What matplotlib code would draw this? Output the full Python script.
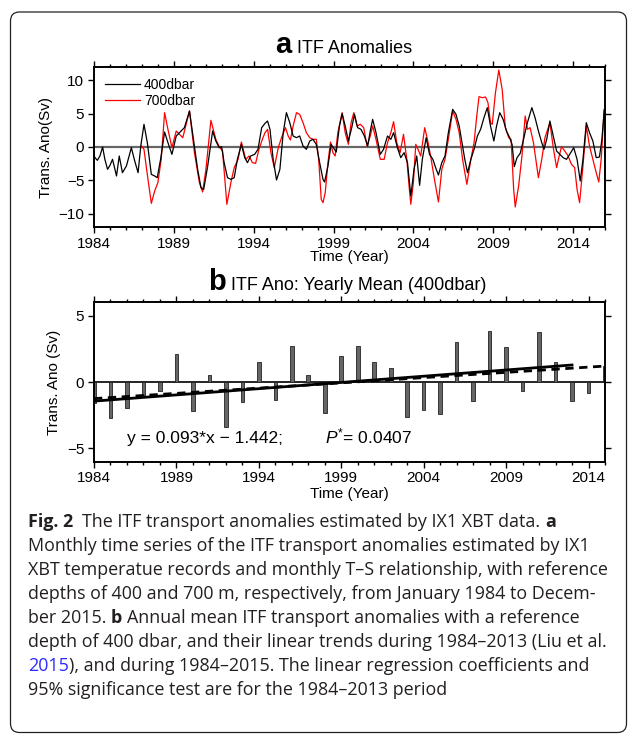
import matplotlib
matplotlib.use("Agg")
import matplotlib.pyplot as plt
import numpy as np
from matplotlib.patches import FancyBboxPatch
from matplotlib.transforms import IdentityTransform

plt.rcParams['font.family'] = ['Liberation Sans', 'DejaVu Sans']
plt.rcParams['mathtext.fontset'] = 'custom'
plt.rcParams['mathtext.rm'] = 'Liberation Sans'
plt.rcParams['mathtext.it'] = 'Liberation Sans:italic'

W, H = 631, 734

# panel a: monthly anomalies
yr_400 = [1984.0, 1984.06, 1984.21, 1984.37, 1984.54, 1984.68, 1984.85, 1985.0, 1985.16, 1985.41,
          1985.58, 1985.78, 1986.03, 1986.34, 1986.55, 1986.76, 1986.93, 1987.13, 1987.34, 1987.59,
          1987.8, 1987.96, 1988.17, 1988.42, 1988.63, 1988.88, 1989.15, 1989.46, 1989.66, 1989.98,
          1990.29, 1990.49, 1990.7, 1990.87, 1991.12, 1991.43, 1991.63, 1991.84, 1991.99, 1992.15,
          1992.36, 1992.57, 1992.78, 1992.98, 1993.23, 1993.44, 1993.61, 1993.81, 1994.06, 1994.27,
          1994.5, 1994.71, 1994.87, 1995.02, 1995.22, 1995.43, 1995.64, 1995.85, 1996.05, 1996.26,
          1996.47, 1996.68, 1996.88, 1997.09, 1997.3, 1997.51, 1997.71, 1997.92, 1998.13, 1998.34,
          1998.44, 1998.65, 1998.85, 1999.06, 1999.17, 1999.37, 1999.54, 1999.73, 1999.93, 2000.14,
          2000.31, 2000.51, 2000.72, 2000.93, 2001.14, 2001.3, 2001.45, 2001.66, 2001.93, 2002.13,
          2002.38, 2002.59, 2002.76, 2003.0, 2003.21, 2003.42, 2003.63, 2003.84, 2004.04, 2004.21,
          2004.39, 2004.56, 2004.8, 2005.01, 2005.22, 2005.43, 2005.57, 2005.78, 2005.98, 2006.19,
          2006.46, 2006.67, 2006.87, 2007.08, 2007.22, 2007.39, 2007.6, 2007.8, 2008.01, 2008.21,
          2008.42, 2008.63, 2008.83, 2009.04, 2009.21, 2009.41, 2009.62, 2009.83, 2010.03, 2010.18,
          2010.32, 2010.49, 2010.69, 2010.9, 2011.11, 2011.42, 2011.62, 2011.83, 2012.04, 2012.18,
          2012.35, 2012.55, 2012.76, 2012.97, 2013.17, 2013.38, 2013.59, 2013.79, 2014.04, 2014.25,
          2014.45, 2014.62, 2014.83, 2015.03, 2015.24, 2015.45, 2015.65, 2015.8, 2015.95]
sv_400 = [-1.2, -1.6, -2.0, -1.35, 0.0, -1.85, -3.35, -2.75, -1.85, -4.35,
          -1.35, -3.85, -2.85, -0.1, -2.1, -3.85, 0.15, 3.4, 0.65, -4.1,
          -4.35, -4.6, -1.85, 2.25, 0.65, -1.1, 1.65, 2.4, 2.9, 5.4,
          0.15, -3.35, -6.1, -6.35, -2.85, 2.4, 0.9, -0.1, 0.05, -2.35,
          -4.6, -4.85, -4.6, -1.85, 0.4, -1.6, -2.35, -1.35, -1.1, -0.35,
          2.9, 3.55, 3.9, 2.65, -1.85, -4.95, -3.35, 2.15, 5.15, 3.65,
          1.65, 1.4, 1.65, 0.15, -0.35, 0.9, 1.15, 0.4, -2.35, -4.85,
          -5.25, -2.85, 0.4, -0.35, -0.75, 3.15, 5.0, 3.15, 0.9, 2.9,
          4.9, 2.9, 2.65, 1.65, 0.15, 2.4, 4.15, 2.15, -1.1, -0.35,
          1.65, 1.15, 2.15, -0.1, -1.6, -0.85, -2.35, -7.35, -3.35, -1.35,
          -5.75, -1.85, 1.4, -1.1, -1.85, -3.35, -4.2, -2.35, -1.35, 2.15,
          5.65, 4.9, 3.15, 0.15, -1.85, -3.85, -1.85, -0.35, 1.65, 2.65,
          4.4, 5.9, 3.15, 0.9, 3.15, 5.15, 4.15, 2.4, 1.4, 0.4,
          -2.95, -1.6, -0.95, 1.15, 3.4, 5.9, 4.4, 2.4, 0.65, -0.35,
          1.15, 3.9, 1.65, -0.6, -1.1, -1.6, -1.85, -1.1, -0.1, -1.85,
          -5.1, -1.85, 3.65, 2.15, 0.9, -1.6, -1.5, 1.0, 5.5]

yr_700 = [1986.97, 1987.13, 1987.38, 1987.59, 1987.8, 1988.0, 1988.21, 1988.42, 1988.63, 1988.88,
          1989.15, 1989.35, 1989.56, 1989.77, 1989.98, 1990.29, 1990.6, 1990.8, 1991.01, 1991.32,
          1991.63, 1991.84, 1992.05, 1992.32, 1992.57, 1992.78, 1993.02, 1993.23, 1993.5, 1993.71,
          1993.92, 1994.12, 1994.33, 1994.55, 1994.71, 1994.87, 1995.08, 1995.29, 1995.54, 1995.74,
          1995.99, 1996.16, 1996.3, 1996.47, 1996.68, 1996.88, 1997.09, 1997.3, 1997.51, 1997.71,
          1997.92, 1998.07, 1998.23, 1998.34, 1998.48, 1998.65, 1998.81, 1998.96, 1999.1, 1999.27,
          1999.54, 1999.73, 1999.93, 2000.1, 2000.27, 2000.47, 2000.68, 2000.89, 2001.1, 2001.3,
          2001.45, 2001.66, 2001.93, 2002.17, 2002.38, 2002.59, 2002.76, 2002.96, 2003.17, 2003.38,
          2003.59, 2003.73, 2003.84, 2004.0, 2004.15, 2004.29, 2004.46, 2004.71, 2004.88, 2005.08,
          2005.32, 2005.57, 2005.78, 2005.98, 2006.19, 2006.46, 2006.67, 2006.87, 2007.08, 2007.35,
          2007.6, 2007.8, 2007.97, 2008.11, 2008.32, 2008.52, 2008.67, 2008.83, 2008.94, 2009.14,
          2009.35, 2009.56, 2009.76, 2009.97, 2010.12, 2010.28, 2010.38, 2010.59, 2010.8, 2011.0,
          2011.15, 2011.31, 2011.52, 2011.73, 2011.83, 2012.04, 2012.24, 2012.55, 2012.76, 2012.97,
          2013.13, 2013.28, 2013.48, 2013.69, 2013.9, 2014.1, 2014.25, 2014.41, 2014.62, 2014.83,
          2015.03, 2015.24, 2015.45, 2015.61, 2015.76, 2015.95]
sv_700 = [0.15, -0.35, -4.85, -8.45, -6.6, -5.35, -1.85, 5.15, 2.65, -0.1,
          2.4, 1.9, 1.4, 3.4, 5.4, -0.85, -5.35, -6.75, -3.35, 4.0,
          1.15, 0.05, -0.6, -8.6, -5.35, -3.1, -1.85, 0.75, -1.85, -1.35,
          -2.35, -2.45, -0.35, 1.2, 2.15, 2.65, -0.85, -3.1, -0.1, 1.4,
          2.9, 1.65, 1.05, 3.15, 5.15, 4.9, 3.65, 2.15, 1.4, 1.15,
          1.15, -1.85, -7.85, -8.35, -6.85, -2.35, 0.75, -0.85, -1.35, 2.15,
          5.15, 2.15, 0.4, 3.65, 5.15, 3.15, 3.4, 2.9, 0.15, 1.65,
          3.15, 1.15, -1.85, -1.85, 0.65, 2.15, 3.8, 0.65, -0.85, 1.9,
          -1.85, -5.85, -8.6, -5.35, 0.4, -0.35, -1.35, 2.9, 1.15, -1.35,
          -4.85, -8.25, -3.35, -1.85, 1.15, 5.4, 4.15, 2.15, -1.85, -5.6,
          -1.85, 0.65, 4.65, 7.55, 7.4, 7.5, 6.65, 3.65, 3.4, 8.15,
          11.55, 8.65, 2.9, 1.4, 1.15, -6.35, -9.0, -5.85, -1.35, 4.65,
          2.65, 2.9, 0.65, -2.85, -4.6, -1.85, 1.4, 3.65, -0.1, -3.1,
          -1.35, 0.05, -0.6, -1.35, -2.6, -3.1, -6.35, -8.35, -2.85, 3.15,
          0.15, -1.85, -3.85, -5.25, -1.85, 5.65]

# panel b: yearly means (400dbar)
years = list(range(1984, 2016))
yearly = [-1.6, -2.7, -1.95, -0.95, -0.7, 2.1, -2.15, 0.5, -3.4, -1.5,
          1.48, -1.35, 2.73, 0.55, -2.35, 1.93, 2.7, 1.53, 1.05, -2.63,
          -2.13, -2.4, 2.98, -1.45, 3.83, 2.63, -0.7, 3.75, 1.53, -1.4,
          -0.85, 1.18]
trend_13_x = [1984, 2013]
trend_13_y = [-1.44, 1.28]
trend_15_x = [1984, 2015]
trend_15_y = [-1.25, 1.2]


def px(x, y):
    return x / W, 1 - y / H


def style_axes(ax, x0, x1):
    ax.set_xlim(x0, x1)
    ax.set_xticks(range(1984, x1, 5))
    ax.set_xticks(range(1984, x1 + 1), minor=True)
    ax.tick_params(which='both', direction='out', top=True, right=True, labelsize=11, width=1)
    ax.tick_params(which='major', length=4, pad=3)
    ax.tick_params(which='minor', length=2.2)
    ax.tick_params(axis='y', which='minor', left=False, right=False)
    for s in ax.spines.values():
        s.set_linewidth(1.4)


fig = plt.figure(figsize=(W / 100, H / 100), dpi=100)

# card border
fig.patches.append(FancyBboxPatch((10.5, 1.5), 616, 720.5, boxstyle='round,pad=0,rounding_size=9',
                                  transform=IdentityTransform(), fill=False, ec='#222222', lw=0.9))

# ---- panel a
ax1 = fig.add_axes([94 / W, 1 - 227 / H, 511 / W, 160 / H])
ax1.axhline(0, color='#666666', lw=1.6, zorder=1)
ax1.plot(yr_400, sv_400, color='black', lw=0.9, label='400dbar', zorder=3)
ax1.plot(yr_700, sv_700, color='#ff0000', lw=0.9, label='700dbar', zorder=2)
ax1.set_ylim(-12, 12)
ax1.set_yticks([-10, -5, 0, 5, 10])
style_axes(ax1, 1984, 2016)
ax1.set_ylabel('Trans. Ano(Sv)', fontsize=11, labelpad=4)
ax1.legend(loc='upper left', frameon=False, fontsize=10, handlelength=2.5, handletextpad=0.3,
           labelspacing=0.15, borderaxespad=0.4, bbox_to_anchor=(0.0, 1.0))
fig.text(*px(349, 257), 'Time (Year)', fontsize=11, ha='center', va='center')
fig.text(*px(291, 53), 'a', fontsize=21, fontweight='bold', ha='right', va='baseline')
fig.text(*px(297, 53), 'ITF Anomalies', fontsize=13, ha='left', va='baseline')

# ---- panel b
ax2 = fig.add_axes([94 / W, 1 - 461.7 / H, 511 / W, 159.4 / H])
ax2.axhline(0, color='black', lw=1.2, zorder=1)
ax2.bar(years, yearly, width=0.22, color='#666666', edgecolor='#222222', lw=0.6, zorder=2)
ax2.plot(trend_13_x, trend_13_y, color='black', lw=2.0, zorder=4)
ax2.plot(trend_15_x, trend_15_y, color='black', lw=2.0, ls=(0, (3, 2)), zorder=3)
ax2.set_ylim(-6, 6)
ax2.set_yticks([-5, 0, 5])
style_axes(ax2, 1984, 2015)
ax2.set_ylabel('Trans. Ano (Sv)', fontsize=11, labelpad=4)
ax2.text(1986.0, -4.62, 'y = 0.093*x \u2212 1.442;', fontsize=12.5, va='baseline')
ax2.text(1998.0, -4.62, r'$P^{*}$= 0.0407', fontsize=12.5, va='baseline')
fig.text(*px(349, 494), 'Time (Year)', fontsize=11, ha='center', va='center')
fig.text(*px(226, 290), 'b', fontsize=21, fontweight='bold', ha='right', va='baseline')
fig.text(*px(231, 290), 'ITF Ano: Yearly Mean (400dbar)', fontsize=13, ha='left', va='baseline')

# ---- caption
cap_font = ['Open Sans', 'DejaVu Sans']
cap_size = 12.9
ink = '#231f20'
blue = '#2a2aff'
caption = [
    [('Fig. 2', 'bold', ink, 0), ('The ITF transport anomalies estimated by IX1 XBT data.', 'normal', ink, 2),
     ('a', 'bold', ink, 1)],
    [('Monthly time series of the ITF transport anomalies estimated by IX1', 'normal', ink, 0)],
    [('XBT temperatue records and monthly T\u2013S relationship, with reference', 'normal', ink, 0)],
    [('depths of 400 and 700 m, respectively, from January 1984 to Decem-', 'normal', ink, 0)],
    [('ber 2015.', 'normal', ink, 0), ('b', 'bold', ink, 1),
     ('Annual mean ITF transport anomalies with a reference', 'normal', ink, 1)],
    [('depth of 400 dbar, and their linear trends during 1984\u20132013 (Liu et al.', 'normal', ink, 0)],
    [('2015', 'normal', blue, 0),
     ('), and during 1984\u20132015. The linear regression coefficients and', 'normal', ink, 0)],
    [('95% significance test are for the 1984\u20132013 period', 'normal', ink, 0)],
]

renderer = fig.canvas.get_renderer()
probe = fig.text(0, 0, 'x x', fontsize=cap_size, family=cap_font)
w_sp = probe.get_window_extent(renderer).width
probe.set_text('xx')
w_sp -= probe.get_window_extent(renderer).width
probe.remove()

y = 527
for line in caption:
    x = 28
    for txt, weight, color, gap in line:
        x += gap * w_sp
        t = fig.text(x / W, 1 - y / H, txt, fontsize=cap_size, fontweight=weight, color=color,
                     family=cap_font, ha='left', va='baseline')
        x = t.get_window_extent(renderer).x1
    y += 24

fig.savefig('out.png', dpi=100)
